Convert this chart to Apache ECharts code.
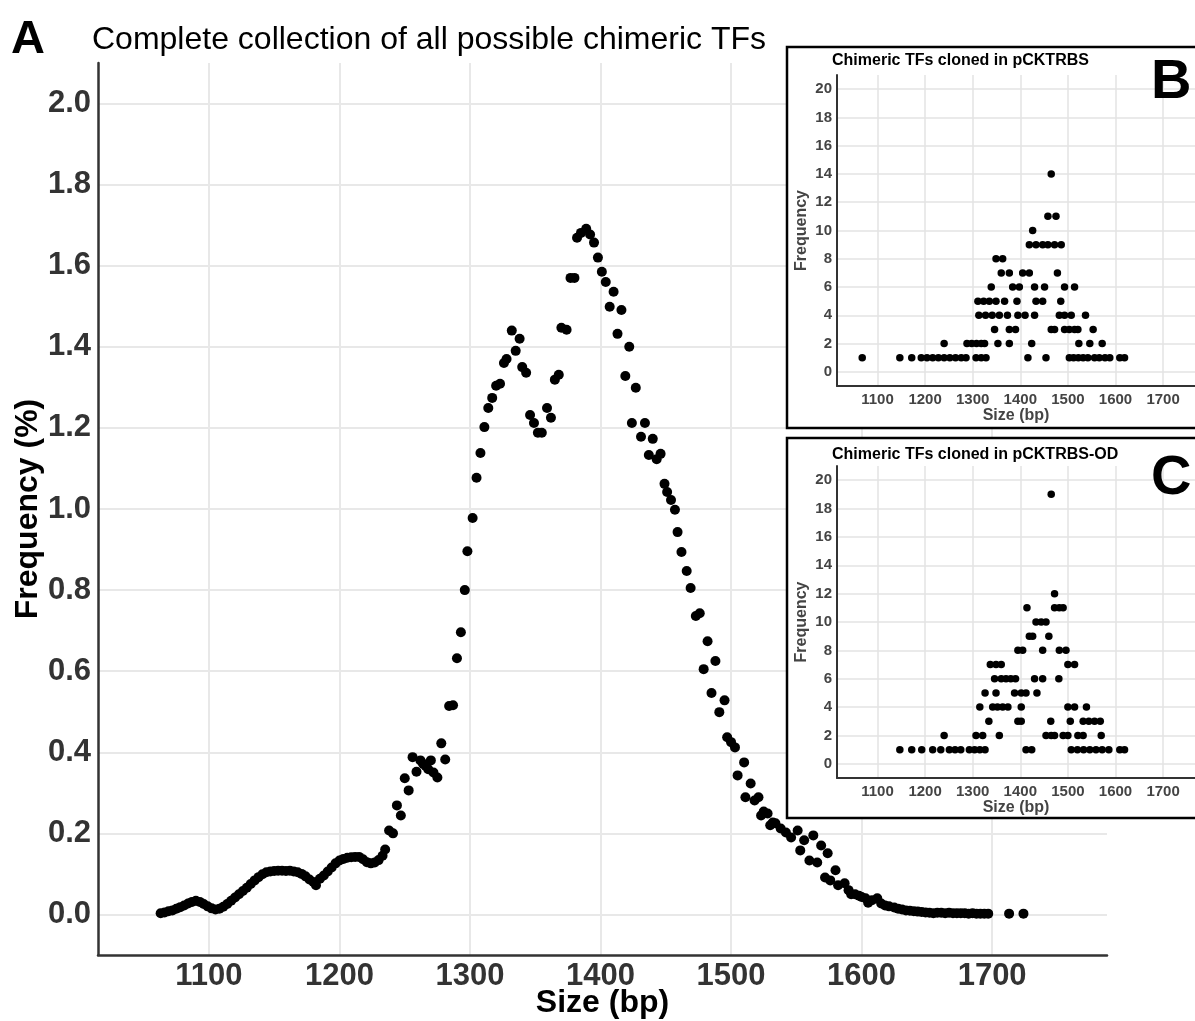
<!DOCTYPE html>
<html>
<head>
<meta charset="utf-8">
<title>Chimeric TF sizes</title>
<script src="https://cdn.jsdelivr.net/npm/echarts@6/dist/echarts.min.js"></script>
<style>
    html, body { margin: 0; padding: 0; background: #fff; }
    #chart { width: 1195px; height: 1021px; }
</style>
</head>
<body>
<div id="chart"></div>
<script>
// main panel A: size (bp) vs frequency (%)
var mainSize = [1063,1066,1069,1072,1075,1078,1081,1084,1087,1090,1093,1096,1099,1102,1105,1108,1111,1114,1117,1120,
    1123,1126,1129,1132,1135,1138,1141,1144,1147,1150,1153,1156,1159,1162,1165,1168,1171,1174,1177,1180,
    1182,1185,1188,1191,1194,1197,1200,1203,1206,1209,1212,1215,1218,1221,1224,1227,1230,1233,1235,1238,
    1241,1244,1247,1250,1253,1256,1259,1262,1264,1266,1268,1270,1272,1275,1278,1281,1284,1287,1290,1293,
    1296,1298,1302,1305,1308,1311,1314,1317,1320,1323,1326,1328,1332,1335,1338,1340,1343,1346,1349,1352,
    1355,1359,1362,1365,1368,1370,1374,1377,1380,1382,1385,1389,1392,1395,1398,1401,1404,1407,1410,1413,
    1416,1419,1422,1424,1427,1431,1434,1437,1440,1443,1446,1449,1451,1454,1457,1459,1462,1466,1469,1473,
    1476,1479,1482,1485,1488,1491,1495,1497,1500,1503,1505,1510,1511,1515,1518,1521,1523,1525,1528,1530,
    1532,1534,1538,1542,1546,1551,1553,1556,1560,1563,1566,1569,1572,1574,1576,1580,1582,1587,1590,1592,
    1595,1598,1600,1603,1605,1608,1612,1615,1618,1621,1625,1628,1631,1634,1637,1640,1643,1646,1649,1652,
    1655,1658,1661,1664,1667,1670,1673,1676,1679,1682,1685,1688,1691,1694,1697,1713,1724];
var mainFreq = [0.003,0.005,0.008,0.010,0.014,0.018,0.022,0.027,0.031,0.034,0.031,0.026,0.020,0.015,0.012,0.014,0.019,0.026,0.034,0.042,
    0.050,0.058,0.066,0.075,0.084,0.092,0.099,0.104,0.106,0.107,0.108,0.108,0.107,0.108,0.106,0.104,0.100,0.094,0.086,0.080,
    0.072,0.088,0.096,0.106,0.116,0.126,0.133,0.137,0.140,0.141,0.142,0.142,0.136,0.129,0.126,0.128,0.134,0.145,0.160,0.207,
    0.200,0.269,0.244,0.336,0.306,0.388,0.352,0.380,0.372,0.366,0.358,0.380,0.350,0.338,0.422,0.382,0.514,0.516,0.632,0.696,
    0.800,0.896,0.978,1.077,1.138,1.202,1.249,1.274,1.304,1.309,1.360,1.370,1.440,1.390,1.420,1.350,1.336,1.232,1.212,1.188,
    1.188,1.249,1.225,1.319,1.331,1.447,1.442,1.570,1.570,1.669,1.681,1.691,1.677,1.657,1.620,1.585,1.560,1.499,1.536,1.432,
    1.491,1.328,1.400,1.212,1.299,1.178,1.212,1.133,1.173,1.123,1.136,1.062,1.042,1.022,0.998,0.943,0.894,0.847,0.805,0.736,
    0.743,0.605,0.674,0.546,0.625,0.499,0.528,0.437,0.425,0.412,0.343,0.375,0.289,0.323,0.281,0.289,0.244,0.254,0.249,0.220,
    0.227,0.225,0.212,0.202,0.190,0.207,0.158,0.183,0.133,0.195,0.128,0.170,0.091,0.151,0.084,0.109,0.072,0.077,0.060,0.050,
    0.050,0.046,0.043,0.040,0.029,0.035,0.040,0.027,0.022,0.020,0.017,0.014,0.012,0.010,0.009,0.008,0.007,0.006,0.005,0.004,
    0.003,0.004,0.004,0.003,0.004,0.003,0.003,0.003,0.003,0.002,0.003,0.002,0.002,0.002,0.002,0.002,0.002];

// inset B: clones in pCKTRBS
var bSize = [1068,1147,1172,1192,1204,1216,1228,1240,1252,1264,1276,1286,1307,1318,1328,1416,1454,1503,1512,1522,1532,1542,1556,1566,1578,1588,1609,1619,
    1240,1288,1298,1308,1318,1325,1353,1377,1424,1523,1546,1572,
    1346,1377,1390,1465,1472,1493,1503,1514,1521,1553,
    1313,1327,1341,1356,1373,1395,1410,1430,1482,1493,1507,1537,
    1311,1323,1335,1349,1367,1393,1433,1447,1485,
    1339,1384,1398,1430,1451,1493,1514,
    1360,1377,1405,1419,1478,
    1349,1363,
    1419,1433,1447,1458,1472,1486,
    1426,
    1458,1475,
    1465];
var bCount = [1,1,1,1,1,1,1,1,1,1,1,1,1,1,1,1,1,1,1,1,1,1,1,1,1,1,1,1,
    2,2,2,2,2,2,2,2,2,2,2,2,
    3,3,3,3,3,3,3,3,3,3,
    4,4,4,4,4,4,4,4,4,4,4,4,
    5,5,5,5,5,5,5,5,5,
    6,6,6,6,6,6,6,
    7,7,7,7,7,
    8,8,
    9,9,9,9,9,9,
    10,
    11,11,
    14];

// inset C: clones in pCKTRBS-OD
var cSize = [1147,1172,1193,1216,1233,1251,1263,1275,1293,1304,1315,1326,1412,1424,1507,1520,1533,1546,1559,1572,1586,1609,1619,
    1240,1307,1321,1356,1454,1465,1472,1490,1500,1521,1532,1570,
    1334,1395,1402,1464,1505,1532,1544,1556,1568,
    1315,1342,1352,1363,1374,1402,1500,1514,1539,
    1326,1349,1388,1402,1412,1435,
    1346,1360,1370,1380,1390,1430,1447,1481,
    1337,1349,1360,1500,1514,
    1395,1405,1447,1482,1496,
    1419,1426,1460,
    1433,1444,1454,
    1414,1472,1482,1490,
    1472,
    1465];
var cCount = [1,1,1,1,1,1,1,1,1,1,1,1,1,1,1,1,1,1,1,1,1,1,1,
    2,2,2,2,2,2,2,2,2,2,2,2,
    3,3,3,3,3,3,3,3,3,
    4,4,4,4,4,4,4,4,4,
    5,5,5,5,5,5,
    6,6,6,6,6,6,6,6,
    7,7,7,7,7,
    8,8,8,8,8,
    9,9,9,
    10,10,10,
    11,11,11,11,
    12,
    19];

var xTicks = [1100, 1200, 1300, 1400, 1500, 1600, 1700];
var mainYTicks = [0, 0.2, 0.4, 0.6, 0.8, 1.0, 1.2, 1.4, 1.6, 1.8, 2.0];
var insetYTicks = [0, 2, 4, 6, 8, 10, 12, 14, 16, 18, 20];

var mainTitle = 'Complete collection of all possible chimeric TFs';
var titleB = 'Chimeric TFs cloned in pCKTRBS';
var titleC = 'Chimeric TFs cloned in pCKTRBS-OD';

var FONT = '"Liberation Sans", Arial, Helvetica, sans-serif';

function pairs(xs, ys) {
    return xs.map(function (x, i) { return [x, ys[i]]; });
}
function plain(v) { return String(v); }

// shared look of the two small panels
function insetX(gridIndex) {
    return {
        gridIndex: gridIndex,
        type: 'value',
        min: 1015,
        max: 1767,
        z: 11,
        name: 'Size (bp)',
        nameLocation: 'middle',
        nameGap: 22,
        nameMoveOverlap: false,
        nameTextStyle: { fontFamily: FONT, fontSize: 16, fontWeight: 'bold', color: '#444' },
        axisLine: { show: true, onZero: false, lineStyle: { color: '#333', width: 2 } },
        axisTick: { show: false, customValues: xTicks },
        axisLabel: { customValues: xTicks, formatter: plain, margin: 6, fontFamily: FONT, fontSize: 15, fontWeight: 'bold', color: '#444' },
        splitLine: { show: true, lineStyle: { color: '#e3e3e3', width: 1.5 } }
    };
}
function insetY(gridIndex) {
    return {
        gridIndex: gridIndex,
        type: 'value',
        min: -1,
        max: 21,
        z: 11,
        name: 'Frequency',
        nameLocation: 'middle',
        nameGap: 27,
        nameMoveOverlap: false,
        nameTextStyle: { fontFamily: FONT, fontSize: 16, fontWeight: 'bold', color: '#444' },
        axisLine: { show: true, onZero: false, lineStyle: { color: '#333', width: 2 } },
        axisTick: { show: false, customValues: insetYTicks },
        axisLabel: { customValues: insetYTicks, formatter: plain, margin: 5, fontFamily: FONT, fontSize: 15, fontWeight: 'bold', color: '#444' },
        splitLine: { show: true, lineStyle: { color: '#e3e3e3', width: 1.5 } }
    };
}

var chart = echarts.init(document.getElementById('chart'));
chart.setOption({
    backgroundColor: '#fff',
    animation: false,
    title: [
        { text: 'A', left: 11, top: 17, padding: 0, textStyle: { fontFamily: FONT, fontSize: 47, fontWeight: 'bold', color: '#000' } },
        { text: mainTitle, left: 92, top: 24, padding: 0, textStyle: { fontFamily: FONT, fontSize: 32, fontWeight: 'normal', color: '#000' } },
        { text: titleB, left: 832, top: 53, padding: 0, z: 12, textStyle: { fontFamily: FONT, fontSize: 16, fontWeight: 'bold', color: '#000' } },
        { text: 'B', left: 1151, top: 55, padding: 0, z: 12, textStyle: { fontFamily: FONT, fontSize: 56, fontWeight: 'bold', color: '#000' } },
        { text: titleC, left: 832, top: 447, padding: 0, z: 12, textStyle: { fontFamily: FONT, fontSize: 16, fontWeight: 'bold', color: '#000' } },
        { text: 'C', left: 1151, top: 451, padding: 0, z: 12, textStyle: { fontFamily: FONT, fontSize: 56, fontWeight: 'bold', color: '#000' } }
    ],
    graphic: [
        { type: 'rect', z: 10, shape: { x: 787, y: 47, width: 420, height: 381 }, style: { fill: '#fff', stroke: '#000', lineWidth: 2.5 } },
        { type: 'rect', z: 10, shape: { x: 787, y: 438, width: 420, height: 380 }, style: { fill: '#fff', stroke: '#000', lineWidth: 2.5 } }
    ],
    grid: [
        { left: 98, right: 88, top: 63, bottom: 66, outerBoundsMode: 'none' },
        { left: 837, right: 0, top: 75, bottom: 635, z: 11, outerBoundsMode: 'none' },
        { left: 837, right: 0, top: 466, bottom: 243, z: 11, outerBoundsMode: 'none' }
    ],
    xAxis: [
        {
            gridIndex: 0,
            type: 'value',
            min: 1015,
            max: 1788,
            name: 'Size (bp)',
            nameLocation: 'middle',
            nameGap: 32,
            nameMoveOverlap: false,
            nameTextStyle: { fontFamily: FONT, fontSize: 32, fontWeight: 'bold', color: '#000' },
            axisLine: { show: true, onZero: false, lineStyle: { color: '#333', width: 2.5 } },
            axisTick: { show: false, customValues: xTicks },
            axisLabel: { customValues: xTicks, formatter: plain, margin: 6, fontFamily: FONT, fontSize: 31, fontWeight: 'bold', color: '#333' },
            splitLine: { show: true, lineStyle: { color: '#e8e8e8', width: 2 } }
        },
        insetX(1),
        insetX(2)
    ],
    yAxis: [
        {
            gridIndex: 0,
            type: 'value',
            min: -0.1,
            max: 2.1,
            name: 'Frequency (%)',
            nameLocation: 'middle',
            nameGap: 54,
            nameMoveOverlap: false,
            nameTextStyle: { fontFamily: FONT, fontSize: 32, fontWeight: 'bold', color: '#000' },
            axisLine: { show: true, onZero: false, lineStyle: { color: '#333', width: 2.5 } },
            axisTick: { show: false, customValues: mainYTicks },
            axisLabel: {
                customValues: mainYTicks, margin: 7, fontFamily: FONT, fontSize: 31, fontWeight: 'bold', color: '#333',
                formatter: function (v) { return v.toFixed(1); }
            },
            splitLine: { show: true, lineStyle: { color: '#e8e8e8', width: 2 } }
        },
        insetY(1),
        insetY(2)
    ],
    series: [
        {
            type: 'scatter', xAxisIndex: 0, yAxisIndex: 0,
            symbolSize: 10, itemStyle: { color: '#000', opacity: 1 },
            data: pairs(mainSize, mainFreq)
        },
        {
            type: 'scatter', xAxisIndex: 1, yAxisIndex: 1, z: 12,
            symbolSize: 7.5, itemStyle: { color: '#000', opacity: 1 },
            data: pairs(bSize, bCount)
        },
        {
            type: 'scatter', xAxisIndex: 2, yAxisIndex: 2, z: 12,
            symbolSize: 7.5, itemStyle: { color: '#000', opacity: 1 },
            data: pairs(cSize, cCount)
        }
    ]
});
</script>
</body>
</html>
